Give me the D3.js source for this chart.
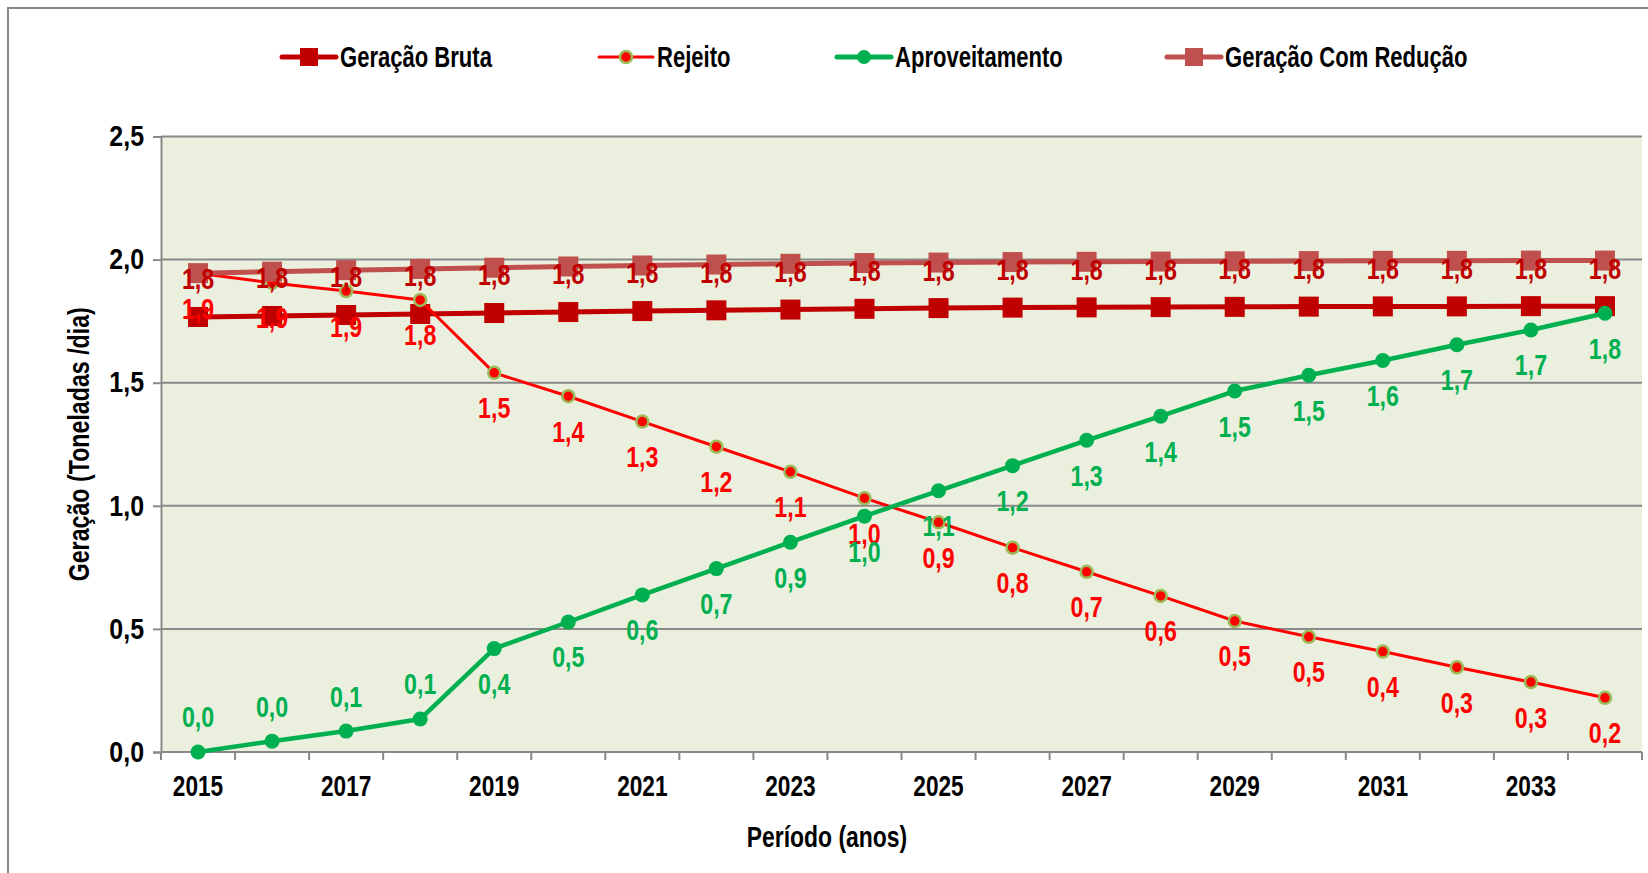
<!DOCTYPE html>
<html>
<head>
<meta charset="utf-8">
<script src="https://cdnjs.cloudflare.com/ajax/libs/d3/7.8.5/d3.min.js"></script>
<style>
  html, body { margin: 0; padding: 0; background: #ffffff; }
  svg { display: block; }
  text { font-family: "Liberation Sans", Arial, sans-serif; font-weight: bold; }
</style>
</head>
<body>
<svg id="chart" width="1648" height="873"></svg>
<script>
// ---------- DATA ----------
const years = ["2015","2016","2017","2018","2019","2020","2021","2022","2023","2024",
               "2025","2026","2027","2028","2029","2030","2031","2032","2033","2034"];
const tickYears = ["2015","2017","2019","2021","2023","2025","2027","2029","2031","2033"];
const yTicks = [0, 0.5, 1.0, 1.5, 2.0, 2.5];

const geracaoBruta = [1.767,1.771,1.775,1.779,1.783,1.787,1.791,1.794,1.797,1.800,
                      1.803,1.805,1.806,1.807,1.808,1.809,1.810,1.810,1.811,1.811];
const rejeito = [1.945,1.905,1.872,1.836,1.540,1.445,1.342,1.240,1.138,1.031,
                 0.933,0.830,0.732,0.634,0.532,0.468,0.408,0.344,0.284,0.220];
const aproveitamento = [0.000,0.044,0.085,0.134,0.420,0.528,0.638,0.745,0.852,0.958,
                        1.061,1.163,1.266,1.364,1.466,1.530,1.590,1.654,1.714,1.782];
const geracaoComReducao = [1.945,1.951,1.957,1.962,1.967,1.972,1.976,1.980,1.983,1.986,
                           1.988,1.990,1.991,1.992,1.993,1.994,1.995,1.995,1.996,1.996];
const aproveitamentoLabelSide = ["above","above","above","above","below","below","below","below","below","below",
                                 "below","below","below","below","below","below","below","below","below","below"];

const seriesNames = ["Geração Bruta","Rejeito","Aproveitamento","Geração Com Redução"];
const yTitle = "Geração (Toneladas /dia)";
const xTitle = "Período (anos)";

// ---------- LAYOUT ----------
const svg = d3.select("#chart");
const plotL = 161, plotR = 1642, plotT = 136.5, plotB = 752;
const fmt = v => d3.format(".1f")(v).replace(".", ",");
const FS = 29;

const x = d3.scaleBand().domain(years).range([plotL, plotR]).padding(0);
const y = d3.scaleLinear().domain([0, 2.5]).range([plotB, plotT]);
const cx = d => x(d) + x.bandwidth() / 2;

const gridColor = "#898989";

// condense text horizontally to mimic a narrow bold face
function condense(sel, factor) {
  sel.each(function () {
    const w = this.getComputedTextLength();
    if (w > 0) {
      this.setAttribute("textLength", (w * factor).toFixed(2));
      this.setAttribute("lengthAdjust", "spacingAndGlyphs");
    }
  });
}

// outer chart border (extends off canvas on right/bottom)
svg.append("rect").attr("x", 8).attr("y", 8).attr("width", 1700).attr("height", 900)
  .attr("fill", "none").attr("stroke", gridColor).attr("stroke-width", 2);

// plot background
svg.append("rect").attr("x", plotL).attr("y", plotT)
  .attr("width", plotR - plotL).attr("height", plotB - plotT)
  .attr("fill", "#EBF0DE");

// y axis
const yAxis = d3.axisLeft(y).tickValues(yTicks).tickSize(8).tickPadding(9).tickFormat(fmt);
const gy = svg.append("g").attr("transform", `translate(${plotL},0)`).call(yAxis);
gy.select(".domain").attr("stroke", gridColor).attr("stroke-width", 2);
gy.selectAll(".tick line").attr("stroke", gridColor).attr("stroke-width", 2);
gy.selectAll(".tick text").attr("font-size", FS).attr("fill", "#000")
  .style("font-family", "\"Liberation Sans\", Arial, sans-serif").style("font-weight", "bold");
condense(gy.selectAll(".tick text"), 0.86);

// horizontal gridlines
svg.append("g").selectAll("line").data(yTicks.filter(t => t > 0)).join("line")
  .attr("x1", plotL).attr("x2", plotR)
  .attr("y1", d => y(d)).attr("y2", d => y(d))
  .attr("stroke", gridColor).attr("stroke-width", 2);

// x axis
const gx = svg.append("g").attr("transform", `translate(0,${plotB})`)
  .call(d3.axisBottom(x).tickValues(tickYears).tickSize(0).tickPadding(23));
gx.select(".domain").remove();
gx.selectAll(".tick text").attr("font-size", FS).attr("fill", "#000")
  .style("font-family", "\"Liberation Sans\", Arial, sans-serif").style("font-weight", "bold");
condense(gx.selectAll(".tick text"), 0.78);
svg.append("line").attr("x1", plotL).attr("x2", plotR).attr("y1", plotB).attr("y2", plotB)
  .attr("stroke", gridColor).attr("stroke-width", 2);
// tick marks at band boundaries
const boundaries = years.map(d => x(d)).concat([plotR]);
svg.append("g").selectAll("line").data(boundaries).join("line")
  .attr("x1", d => d).attr("x2", d => d).attr("y1", plotB).attr("y2", plotB + 8)
  .attr("stroke", gridColor).attr("stroke-width", 2);

// axis titles
const xt = svg.append("text").attr("x", 827).attr("y", 847).attr("text-anchor", "middle")
  .attr("font-size", FS).attr("fill", "#000").text(xTitle);
condense(xt, 0.79);
const yt = svg.append("text").attr("transform", `translate(89,${(plotT + plotB) / 2}) rotate(-90)`)
  .attr("text-anchor", "middle").attr("font-size", FS).attr("fill", "#000").text(yTitle);
condense(yt, 0.8);

// ---------- SERIES ----------
const line = d3.line().x((d, i) => cx(years[i])).y(d => y(d));

function squareSeries(data, color, lw, size) {
  const g = svg.append("g");
  g.append("path").attr("d", line(data)).attr("fill", "none")
    .attr("stroke", color).attr("stroke-width", lw).attr("stroke-linejoin", "round");
  g.selectAll("rect").data(data).join("rect")
    .attr("x", (d, i) => cx(years[i]) - size / 2).attr("y", d => y(d) - size / 2)
    .attr("width", size).attr("height", size).attr("fill", color);
}
function circleSeries(data, color, lw, r, stroke, sw) {
  const g = svg.append("g");
  g.append("path").attr("d", line(data)).attr("fill", "none")
    .attr("stroke", color).attr("stroke-width", lw).attr("stroke-linejoin", "round");
  g.selectAll("circle").data(data).join("circle")
    .attr("cx", (d, i) => cx(years[i])).attr("cy", d => y(d)).attr("r", r)
    .attr("fill", color).attr("stroke", stroke || "none").attr("stroke-width", sw || 0);
}

const cBruta = "#C00000", cRej = "#FF0000", cApr = "#00B050", cRed = "#C0504D";

squareSeries(geracaoBruta, cBruta, 5, 20);
circleSeries(rejeito, cRej, 3, 6, "#9BBB59", 2.5);
circleSeries(aproveitamento, cApr, 4.5, 7.5);
squareSeries(geracaoComReducao, cRed, 5, 20);

// ---------- DATA LABELS ----------
function labels(data, color, sideFn, off) {
  const t = svg.append("g").selectAll("text").data(data).join("text")
    .attr("x", (d, i) => cx(years[i]))
    .attr("y", (d, i) => y(d) + (sideFn(i) === "above" ? -off : off))
    .attr("dy", "0.36em").attr("text-anchor", "middle")
    .attr("font-size", FS).attr("fill", color).text(d => fmt(d));
  condense(t, 0.8);
}
labels(geracaoBruta, cBruta, () => "above", 38);
labels(rejeito, cRej, () => "below", 35);
labels(aproveitamento, cApr, i => aproveitamentoLabelSide[i], 35);

// ---------- LEGEND ----------
const legendY = 57;
const legendItems = [
  { name: seriesNames[0], color: cBruta, type: "square", x0: 282 },
  { name: seriesNames[1], color: cRej, type: "rej", x0: 599 },
  { name: seriesNames[2], color: cApr, type: "circle", x0: 837 },
  { name: seriesNames[3], color: cRed, type: "square", x0: 1167 }
];
const lg = svg.append("g");
legendItems.forEach(it => {
  const g = lg.append("g");
  g.append("line").attr("x1", it.x0).attr("x2", it.x0 + 54).attr("y1", legendY).attr("y2", legendY)
    .attr("stroke", it.color).attr("stroke-width", it.type === "rej" ? 3 : 5).attr("stroke-linecap", "round");
  const mx = it.x0 + 27;
  if (it.type === "square") {
    g.append("rect").attr("x", mx - 9).attr("y", legendY - 9).attr("width", 18).attr("height", 18).attr("fill", it.color);
  } else if (it.type === "rej") {
    g.append("circle").attr("cx", mx).attr("cy", legendY).attr("r", 6).attr("fill", it.color)
      .attr("stroke", "#9BBB59").attr("stroke-width", 2.5);
  } else {
    g.append("circle").attr("cx", mx).attr("cy", legendY).attr("r", 7).attr("fill", it.color);
  }
  const t = g.append("text").attr("x", it.x0 + 58).attr("y", legendY).attr("dy", "0.36em")
    .attr("font-size", FS).attr("fill", "#000").text(it.name);
  condense(t, 0.76);
});
</script>
</body>
</html>
